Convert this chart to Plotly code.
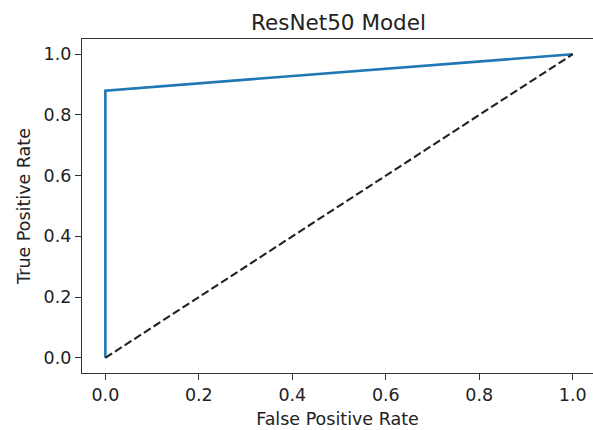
import plotly.graph_objects as go

fpr = [0.0, 0.0, 1.0]
tpr = [0.0, 0.88, 1.0]
diag_x = [0.0, 1.0]
diag_y = [0.0, 1.0]
tick_vals = [0.0, 0.2, 0.4, 0.6, 0.8, 1.0]
tick_text = ["0.0", "0.2", "0.4", "0.6", "0.8", "1.0"]

FONT = "DejaVu Sans"

fig = go.Figure()
fig.add_trace(go.Scatter(x=fpr, y=tpr, mode="lines",
                         line=dict(color="#1f77b4", width=2.6), showlegend=False))
fig.add_trace(go.Scatter(x=diag_x, y=diag_y, mode="lines",
                         line=dict(color="#222222", width=2.1, dash="8px,3.5px"), showlegend=False))

axis_common = dict(
    showgrid=False, zeroline=False, showline=True, linecolor="#333333", linewidth=1.1,
    ticks="outside", ticklen=6, tickwidth=1.1, tickcolor="#333333",
    tickvals=tick_vals, ticktext=tick_text,
    tickfont=dict(family=FONT, size=17.5, color="#222222"),
)

fig.update_layout(
    width=593, height=430,
    margin=dict(l=82, r=0, t=39, b=57),
    paper_bgcolor="white", plot_bgcolor="white",
    title=dict(text="ResNet50 Model", x=(82 + 595) / 2 / 593, xanchor="center",
               y=1 - 22 / 430, yanchor="middle",
               font=dict(family=FONT, size=21.5, color="#222222")),
    xaxis=dict(range=[-0.05, 1.0433], mirror=True,
               title=dict(text="False Positive Rate", standoff=8,
                          font=dict(family=FONT, size=17.5, color="#222222")),
               **axis_common),
    yaxis=dict(range=[-0.05, 1.05], mirror=False,
               title=dict(text="True Positive Rate", standoff=8,
                          font=dict(family=FONT, size=17.5, color="#222222")),
               **axis_common),
)

fig.write_html("out.html")
